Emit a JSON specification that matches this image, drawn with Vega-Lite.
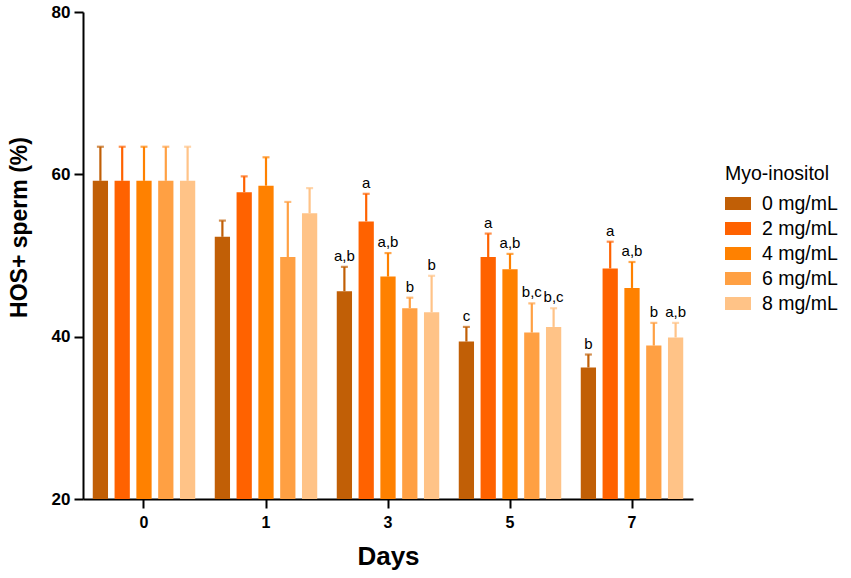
{
  "$schema": "https://vega.github.io/schema/vega-lite/v6.json",
  "autosize": "none",
  "padding": {"left": 83, "top": 12, "right": 158, "bottom": 79},
  "width": 610,
  "height": 487,
  "background": "white",
  "config": {
    "view": {"stroke": null},
    "font": "Liberation Sans",
    "axis": {"domainColor": "black", "domainWidth": 2, "tickColor": "black", "tickWidth": 2, "tickSize": 9, "grid": false, "labelColor": "black", "titleColor": "black", "labelFont": "Liberation Sans", "titleFont": "Liberation Sans"}
  },
  "data": {
    "values": [
      {"day": "0", "dose": "0 mg/mL", "mean": 59.2, "err": 63.4, "sig": ""},
      {"day": "0", "dose": "2 mg/mL", "mean": 59.2, "err": 63.4, "sig": ""},
      {"day": "0", "dose": "4 mg/mL", "mean": 59.2, "err": 63.4, "sig": ""},
      {"day": "0", "dose": "6 mg/mL", "mean": 59.2, "err": 63.4, "sig": ""},
      {"day": "0", "dose": "8 mg/mL", "mean": 59.2, "err": 63.4, "sig": ""},
      {"day": "1", "dose": "0 mg/mL", "mean": 52.3, "err": 54.3, "sig": ""},
      {"day": "1", "dose": "2 mg/mL", "mean": 57.8, "err": 59.75, "sig": ""},
      {"day": "1", "dose": "4 mg/mL", "mean": 58.6, "err": 62.1, "sig": ""},
      {"day": "1", "dose": "6 mg/mL", "mean": 49.8, "err": 56.6, "sig": ""},
      {"day": "1", "dose": "8 mg/mL", "mean": 55.2, "err": 58.3, "sig": ""},
      {"day": "3", "dose": "0 mg/mL", "mean": 45.6, "err": 48.6, "sig": "a,b"},
      {"day": "3", "dose": "2 mg/mL", "mean": 54.2, "err": 57.6, "sig": "a"},
      {"day": "3", "dose": "4 mg/mL", "mean": 47.4, "err": 50.3, "sig": "a,b"},
      {"day": "3", "dose": "6 mg/mL", "mean": 43.5, "err": 44.8, "sig": "b"},
      {"day": "3", "dose": "8 mg/mL", "mean": 43.0, "err": 47.5, "sig": "b"},
      {"day": "5", "dose": "0 mg/mL", "mean": 39.4, "err": 41.2, "sig": "c"},
      {"day": "5", "dose": "2 mg/mL", "mean": 49.8, "err": 52.7, "sig": "a"},
      {"day": "5", "dose": "4 mg/mL", "mean": 48.3, "err": 50.2, "sig": "a,b"},
      {"day": "5", "dose": "6 mg/mL", "mean": 40.5, "err": 44.1, "sig": "b,c"},
      {"day": "5", "dose": "8 mg/mL", "mean": 41.2, "err": 43.5, "sig": "b,c"},
      {"day": "7", "dose": "0 mg/mL", "mean": 36.2, "err": 37.8, "sig": "b"},
      {"day": "7", "dose": "2 mg/mL", "mean": 48.4, "err": 51.7, "sig": "a"},
      {"day": "7", "dose": "4 mg/mL", "mean": 46.0, "err": 49.2, "sig": "a,b"},
      {"day": "7", "dose": "6 mg/mL", "mean": 38.9, "err": 41.7, "sig": "b"},
      {"day": "7", "dose": "8 mg/mL", "mean": 39.9, "err": 41.7, "sig": "a,b"}
    ]
  },
  "encoding": {
    "x": {
      "field": "day", "type": "nominal",
      "scale": {"paddingInner": 0.16, "paddingOuter": 0.08},
      "axis": {"title": "Days", "labelAngle": 0, "labelFontSize": 16, "labelFontWeight": "bold", "labelPadding": 6, "titleFontSize": 26, "titleFontWeight": "bold", "titlePadding": 13}
    },
    "xOffset": {"field": "dose", "type": "nominal", "scale": {"paddingInner": 0.3, "paddingOuter": 0}},
    "color": {
      "field": "dose", "type": "nominal",
      "scale": {"domain": ["0 mg/mL", "2 mg/mL", "4 mg/mL", "6 mg/mL", "8 mg/mL"], "range": ["#C15F06", "#FF6200", "#FF8100", "#FFA043", "#FFC387"]},
      "legend": {"title": "Myo-inositol", "orient": "none", "legendX": 642, "legendY": 153, "padding": 0, "titleFontSize": 19.5, "titleFontWeight": "normal", "titleColor": "black", "titlePadding": 6, "labelFontSize": 19.5, "labelColor": "black", "labelOffset": 11, "rowPadding": 2, "symbolType": "M-1,-0.5H1V0.5H-1Z", "symbolSize": 676, "symbolStrokeWidth": 0, "symbolOpacity": 1}
    }
  },
  "layer": [
    {
      "mark": {"type": "rule", "strokeWidth": 2.2},
      "encoding": {
        "y": {"field": "mean", "type": "quantitative"},
        "y2": {"field": "err"}
      }
    },
    {
      "mark": {"type": "tick", "size": 7, "thickness": 2.2, "orient": "horizontal"},
      "encoding": {
        "y": {"field": "err", "type": "quantitative"}
      }
    },
    {
      "mark": {"type": "bar", "opacity": 1},
      "encoding": {
        "y": {
          "field": "mean", "type": "quantitative",
          "scale": {"domain": [20, 80], "zero": false, "nice": false},
          "axis": {"values": [20, 40, 60, 80], "title": "HOS+ sperm (%)", "labelFontSize": 17, "labelFontWeight": "bold", "labelPadding": 4, "titleFontSize": 23, "titleFontWeight": "bold", "titleX": -57, "titleY": 215, "titleAngle": -90, "titleAlign": "center", "titleBaseline": "alphabetic"}
        },
        "y2": {"datum": 20}
      }
    },
    {
      "mark": {"type": "text", "baseline": "bottom", "dy": -3, "fontSize": 15, "color": "black"},
      "encoding": {
        "y": {"field": "err", "type": "quantitative"},
        "text": {"field": "sig"},
        "color": {"value": "black"}
      }
    }
  ]
}
